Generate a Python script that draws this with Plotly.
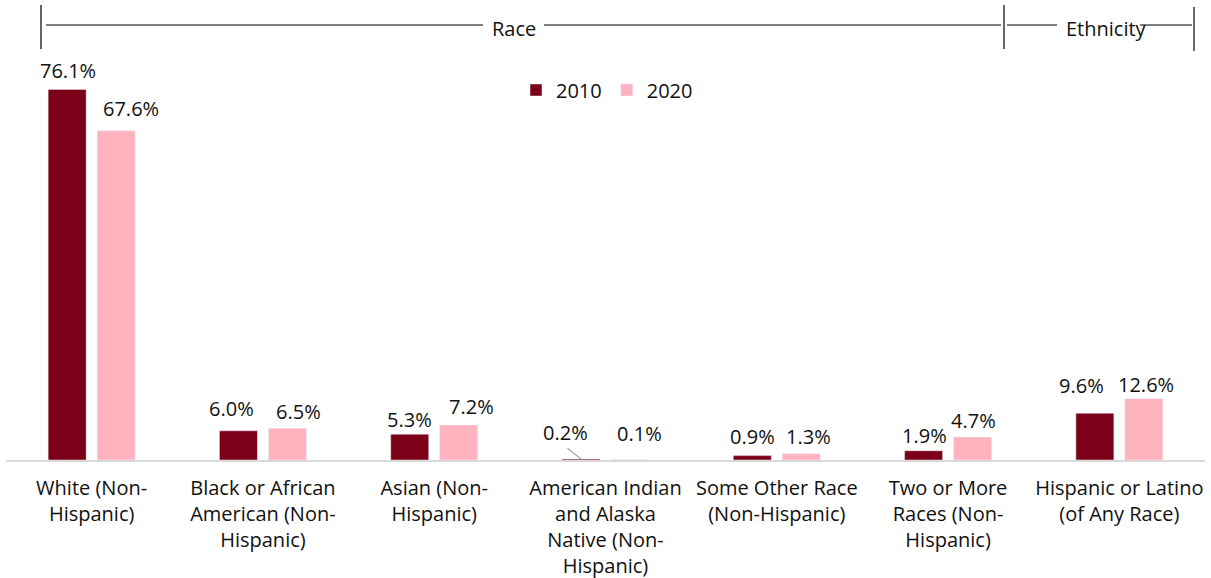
import plotly.graph_objects as go

categories = [
    "White (Non-<br>Hispanic)",
    "Black or African<br>American (Non-<br>Hispanic)",
    "Asian (Non-<br>Hispanic)",
    "American Indian<br>and Alaska<br>Native (Non-<br>Hispanic)",
    "Some Other Race<br>(Non-Hispanic)",
    "Two or More<br>Races (Non-<br>Hispanic)",
    "Hispanic or Latino<br>(of Any Race)",
]
values_2010 = [76.1, 6.0, 5.3, 0.2, 0.9, 1.9, 9.6]
values_2020 = [67.6, 6.5, 7.2, 0.1, 1.3, 4.7, 12.6]
series_names = ["2010", "2020"]

# label nudges (pixels) relative to bar top-centre: (dx, dy up)
nudge_2010 = [(1, 19), (-7, 22), (0, 15), (-16, 27), (0, 19), (1, 15), (-13, 28)]
nudge_2020 = [(15, 22), (11, 17), (13, 18), (10, 26), (7, 17), (1, 17), (2, 14)]

COL_2010 = "#7D0019"
COL_2020 = "#FFB3BF"
FONT = "Open Sans"
TXT = "#111111"
FS = 20

W, H = 1211, 578
ML, MR, MT, MB = 6, 6, 40, 118
PW = W - ML - MR
PH = H - MT - MB
BASE = H - MB
YMAX = PH / 4.87
BARGAP = 0.428
GROUPGAP = 0.224


def px(x):
    return (x - ML) / PW


def py(y):
    return (BASE - y) / PH


fig = go.Figure()
idx = list(range(len(categories)))
fig.add_trace(go.Bar(name=series_names[0], x=idx, y=values_2010, marker_color=COL_2010))
fig.add_trace(go.Bar(name=series_names[1], x=idx, y=values_2020, marker_color=COL_2020))

off = (1 - BARGAP) / 4
annotations = []
for vals, nudges, sign in ((values_2010, nudge_2010, -1), (values_2020, nudge_2020, 1)):
    for i, v in enumerate(vals):
        dx, dy = nudges[i]
        annotations.append(dict(
            x=i + sign * off, y=v, xref="x", yref="y", text=f"{v:.1f}%",
            showarrow=False, xanchor="center", yanchor="middle",
            xshift=dx, yshift=dy, font=dict(family=FONT, size=FS, color=TXT),
        ))

# leader line for the small American Indian 2010 label
annotations.append(dict(
    x=3 - off, y=values_2010[3], xref="x", yref="y", text="", showarrow=True,
    arrowhead=0, arrowwidth=1.3, arrowcolor="#a6a6a6", ax=-15, ay=-12,
))

# bracket titles
annotations.append(dict(x=px(514), y=py(28), xref="paper", yref="paper", text="Race",
                        showarrow=False, xanchor="center", yanchor="middle",
                        font=dict(family=FONT, size=FS, color=TXT)))
annotations.append(dict(x=px(1106), y=py(28), xref="paper", yref="paper", text="Ethnicity",
                        showarrow=False, xanchor="center", yanchor="middle",
                        font=dict(family=FONT, size=FS, color=TXT)))

shapes = []
line = dict(color="#000000", width=1.2)


def seg(x0, y0, x1, y1):
    shapes.append(dict(type="line", xref="paper", yref="paper",
                       x0=px(x0), y0=py(y0), x1=px(x1), y1=py(y1), line=line))


seg(41, 5, 41, 49)
seg(46, 25, 483, 25)
seg(544, 25, 1001, 25)
seg(1004, 5, 1004, 49)
seg(1007, 25, 1057, 25)
seg(1140, 25, 1192, 25)
seg(1194, 7, 1194, 51)

fig.update_layout(
    width=W, height=H,
    margin=dict(l=ML, r=MR, t=MT, b=MB, pad=0, autoexpand=False),
    paper_bgcolor="white", plot_bgcolor="white",
    barmode="group", bargap=BARGAP, bargroupgap=GROUPGAP,
    font=dict(family=FONT, size=FS, color=TXT),
    showlegend=True,
    legend=dict(orientation="h", x=px(516), y=py(90), xanchor="left", yanchor="middle",
                font=dict(family=FONT, size=FS, color=TXT), bgcolor="rgba(0,0,0,0)"),
    annotations=annotations, shapes=shapes,
)
fig.update_xaxes(
    tickmode="array", tickvals=idx, ticktext=categories,
    range=[-0.5, len(categories) - 0.5], automargin=False,
    showline=True, linecolor="#d9d9d9", linewidth=1.5,
    showgrid=False, zeroline=False, ticks="", ticklabelstandoff=9,
    tickfont=dict(family=FONT, size=FS, color=TXT),
)
fig.update_yaxes(range=[0, YMAX], visible=False, showgrid=False, zeroline=False,
                 automargin=False)

fig.write_html("out.html")
